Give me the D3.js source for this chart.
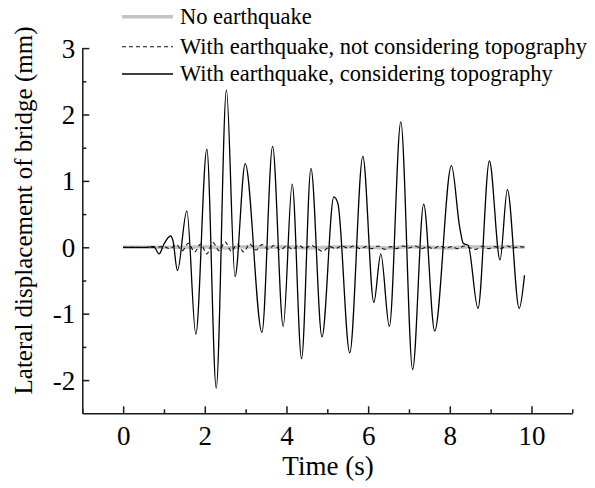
<!DOCTYPE html>
<html><head><meta charset="utf-8">
<script src="https://cdn.jsdelivr.net/npm/d3@7"></script>
</head>
<body style="margin:0">
<svg id="chart" width="595" height="488"></svg>
<script>
// ---- data ----
const xTicks = [0, 2, 4, 6, 8, 10];
const xMinorTicks = [-1, 1, 3, 5, 7, 9, 11];
const yTicks = [-2, -1, 0, 1, 2, 3];
const yMinorTicks = [-1.5, -0.5, 0.5, 1.5, 2.5];

const seriesNames = ["No earthquake", "With earthquake, not considering topography", "With earthquake, considering topography"];

const grayTime  = [0, 0.5, 1.0, 1.5, 2.0, 2.5, 3.0, 3.5, 4.0, 4.5, 5.0, 5.5, 6.0, 6.5, 7.0, 7.5, 8.0, 8.5, 9.0, 9.5, 9.83];
const grayValue = [0, 0, 0, 0, 0.01, -0.01, 0.01, 0, 0.01, -0.01, 0, 0.01, 0, -0.01, 0.01, 0, -0.01, 0.01, 0, 0.01, 0];

const dashTime = [
  0, 0.8, 1.0, 1.15, 1.3, 1.45, 1.6, 1.75, 1.9, 2.05,
  2.2, 2.35, 2.5, 2.65, 2.8, 2.95, 3.1, 3.25, 3.4, 3.55,
  3.7, 3.85, 4.0, 4.15, 4.3, 4.45, 4.6, 4.75, 4.9, 5.05,
  5.2, 5.35, 5.5, 5.65, 5.8, 5.95, 6.1, 6.25, 6.4, 6.55,
  6.7, 6.85, 7.0, 7.15, 7.3, 7.45, 7.6, 7.75, 7.9, 8.05,
  8.2, 8.35, 8.5, 8.65, 8.8, 8.95, 9.1, 9.25, 9.4, 9.55,
  9.7, 9.83];
const dashValue = [
  0, 0, 0.01, -0.02, 0.04, -0.05, 0.06, -0.07, 0.05, -0.10,
  0.07, -0.05, 0.08, -0.06, 0.05, -0.07, 0.05, -0.04, 0.04, -0.03,
  0.03, -0.04, 0.02, -0.03, 0.03, -0.02, 0.03, -0.02, -0.06, 0.01,
  -0.02, 0.02, -0.01, 0.02, -0.02, 0.01, -0.02, 0.02, -0.03, 0.01,
  -0.02, 0.02, -0.01, 0.02, -0.02, 0.01, -0.02, 0.02, -0.01, 0.01,
  -0.02, 0.02, -0.01, -0.03, 0.02, -0.02, 0.01, -0.02, 0.02, -0.01,
  0.01, 0];

const solidTime = [0, 0.6, 0.75, 0.88, 1.0, 1.16, 1.22, 1.33, 1.56, 1.78,
  2.05, 2.28, 2.53, 2.74, 2.99, 3.40, 3.66, 3.92, 4.14, 4.37,
  4.60, 4.87, 5.16, 5.26, 5.55, 5.87, 6.14, 6.31, 6.52, 6.80,
  7.09, 7.36, 7.63, 8.04, 8.24, 8.33, 8.45, 8.69, 8.97, 9.23,
  9.41, 9.70, 9.83];
const solidValue = [0, 0, 0.01, -0.1, 0.05, 0.17, 0.1, -0.35, 0.55, -1.31,
  1.48, -2.12, 2.37, -0.44, 1.26, -1.28, 1.52, -1.19, 0.95, -1.68,
  1.19, -1.35, 0.76, 0.66, -1.59, 1.37, -0.83, -0.10, -1.19, 1.89,
  -1.84, 0.65, -1.26, 1.23, 0.31, 0.06, 0.03, -0.92, 1.30, -0.19,
  0.87, -0.92, -0.42];

// ---- drawing ----
const FONT = "'Liberation Serif'";
const svg = d3.select("#chart");
const x = d3.scaleLinear().domain([-1, 11]).range([82.3, 572.3]);
const y = d3.scaleLinear().domain([-2.5, 3]).range([413.3, 48.1]);

const zip = (t, v) => t.map((d, i) => [d, v[i]]);
const line = c => d3.line().x(d => x(d[0])).y(d => y(d[1])).curve(c);

svg.append("path").datum(zip(grayTime, grayValue))
  .attr("d", line(d3.curveMonotoneX)).attr("fill", "none")
  .attr("stroke", "#c4c4c4").attr("stroke-width", 3.5);
svg.append("path").datum(zip(dashTime, dashValue))
  .attr("d", line(d3.curveCatmullRom)).attr("fill", "none")
  .attr("stroke", "#111").attr("stroke-width", 1.1).attr("stroke-dasharray", "4,3");
svg.append("path").datum(zip(solidTime, solidValue))
  .attr("d", line(d3.curveMonotoneX)).attr("fill", "none")
  .attr("stroke", "#000").attr("stroke-width", 1.3);

const tickFont = 27;
const gx = svg.append("g").attr("transform", `translate(0,${y(-2.5)})`)
  .call(d3.axisBottom(x).tickValues(xTicks).tickSizeInner(-7).tickSizeOuter(0).tickPadding(13).tickFormat(d3.format("d")));
const gxm = svg.append("g").attr("transform", `translate(0,${y(-2.5)})`)
  .call(d3.axisBottom(x).tickValues(xMinorTicks).tickSizeInner(-4).tickSizeOuter(0).tickFormat(""));
gxm.select(".domain").remove();
const gy = svg.append("g").attr("transform", `translate(${x(-1)},0)`)
  .call(d3.axisLeft(y).tickValues(yTicks).tickSizeInner(-7).tickSizeOuter(0).tickPadding(7).tickFormat(d => d < 0 ? "-" + Math.abs(d) : String(d)));
const gym = svg.append("g").attr("transform", `translate(${x(-1)},0)`)
  .call(d3.axisLeft(y).tickValues(yMinorTicks).tickSizeInner(-4).tickSizeOuter(0).tickFormat(""));
gym.select(".domain").remove();

[gx, gxm, gy, gym].forEach(g => {
  g.attr("font-family", null).attr("font-size", null);
  g.selectAll("path,line").attr("stroke", "#1a1a1a").attr("stroke-width", 1.5);
  g.selectAll("text").attr("font-size", tickFont).attr("fill", "#000").style("font-family", FONT);
});
gy.selectAll("text").attr("dy", "0.33em");

svg.append("text").attr("x", 328).attr("y", 475).attr("text-anchor", "middle")
  .style("font-family", FONT).attr("font-size", 27).text("Time (s)");
svg.append("text").attr("transform", "translate(32,210.5) rotate(-90)").attr("text-anchor", "middle")
  .style("font-family", FONT).attr("font-size", 25).text("Lateral displacement of bridge (mm)");

const legY = [16.7, 46.7, 74];
const legStyles = [
  {stroke: "#c4c4c4", w: 3.5, dash: null},
  {stroke: "#111", w: 1.1, dash: "4,3"},
  {stroke: "#000", w: 1.3, dash: null}
];
seriesNames.forEach((name, i) => {
  svg.append("line").attr("x1", 122).attr("x2", 173).attr("y1", legY[i]).attr("y2", legY[i])
    .attr("stroke", legStyles[i].stroke).attr("stroke-width", legStyles[i].w)
    .attr("stroke-dasharray", legStyles[i].dash);
  svg.append("text").attr("x", 180).attr("y", legY[i]).attr("dy", "0.33em")
    .style("font-family", FONT).attr("font-size", 22.5).text(name);
});
</script>
</body></html>
